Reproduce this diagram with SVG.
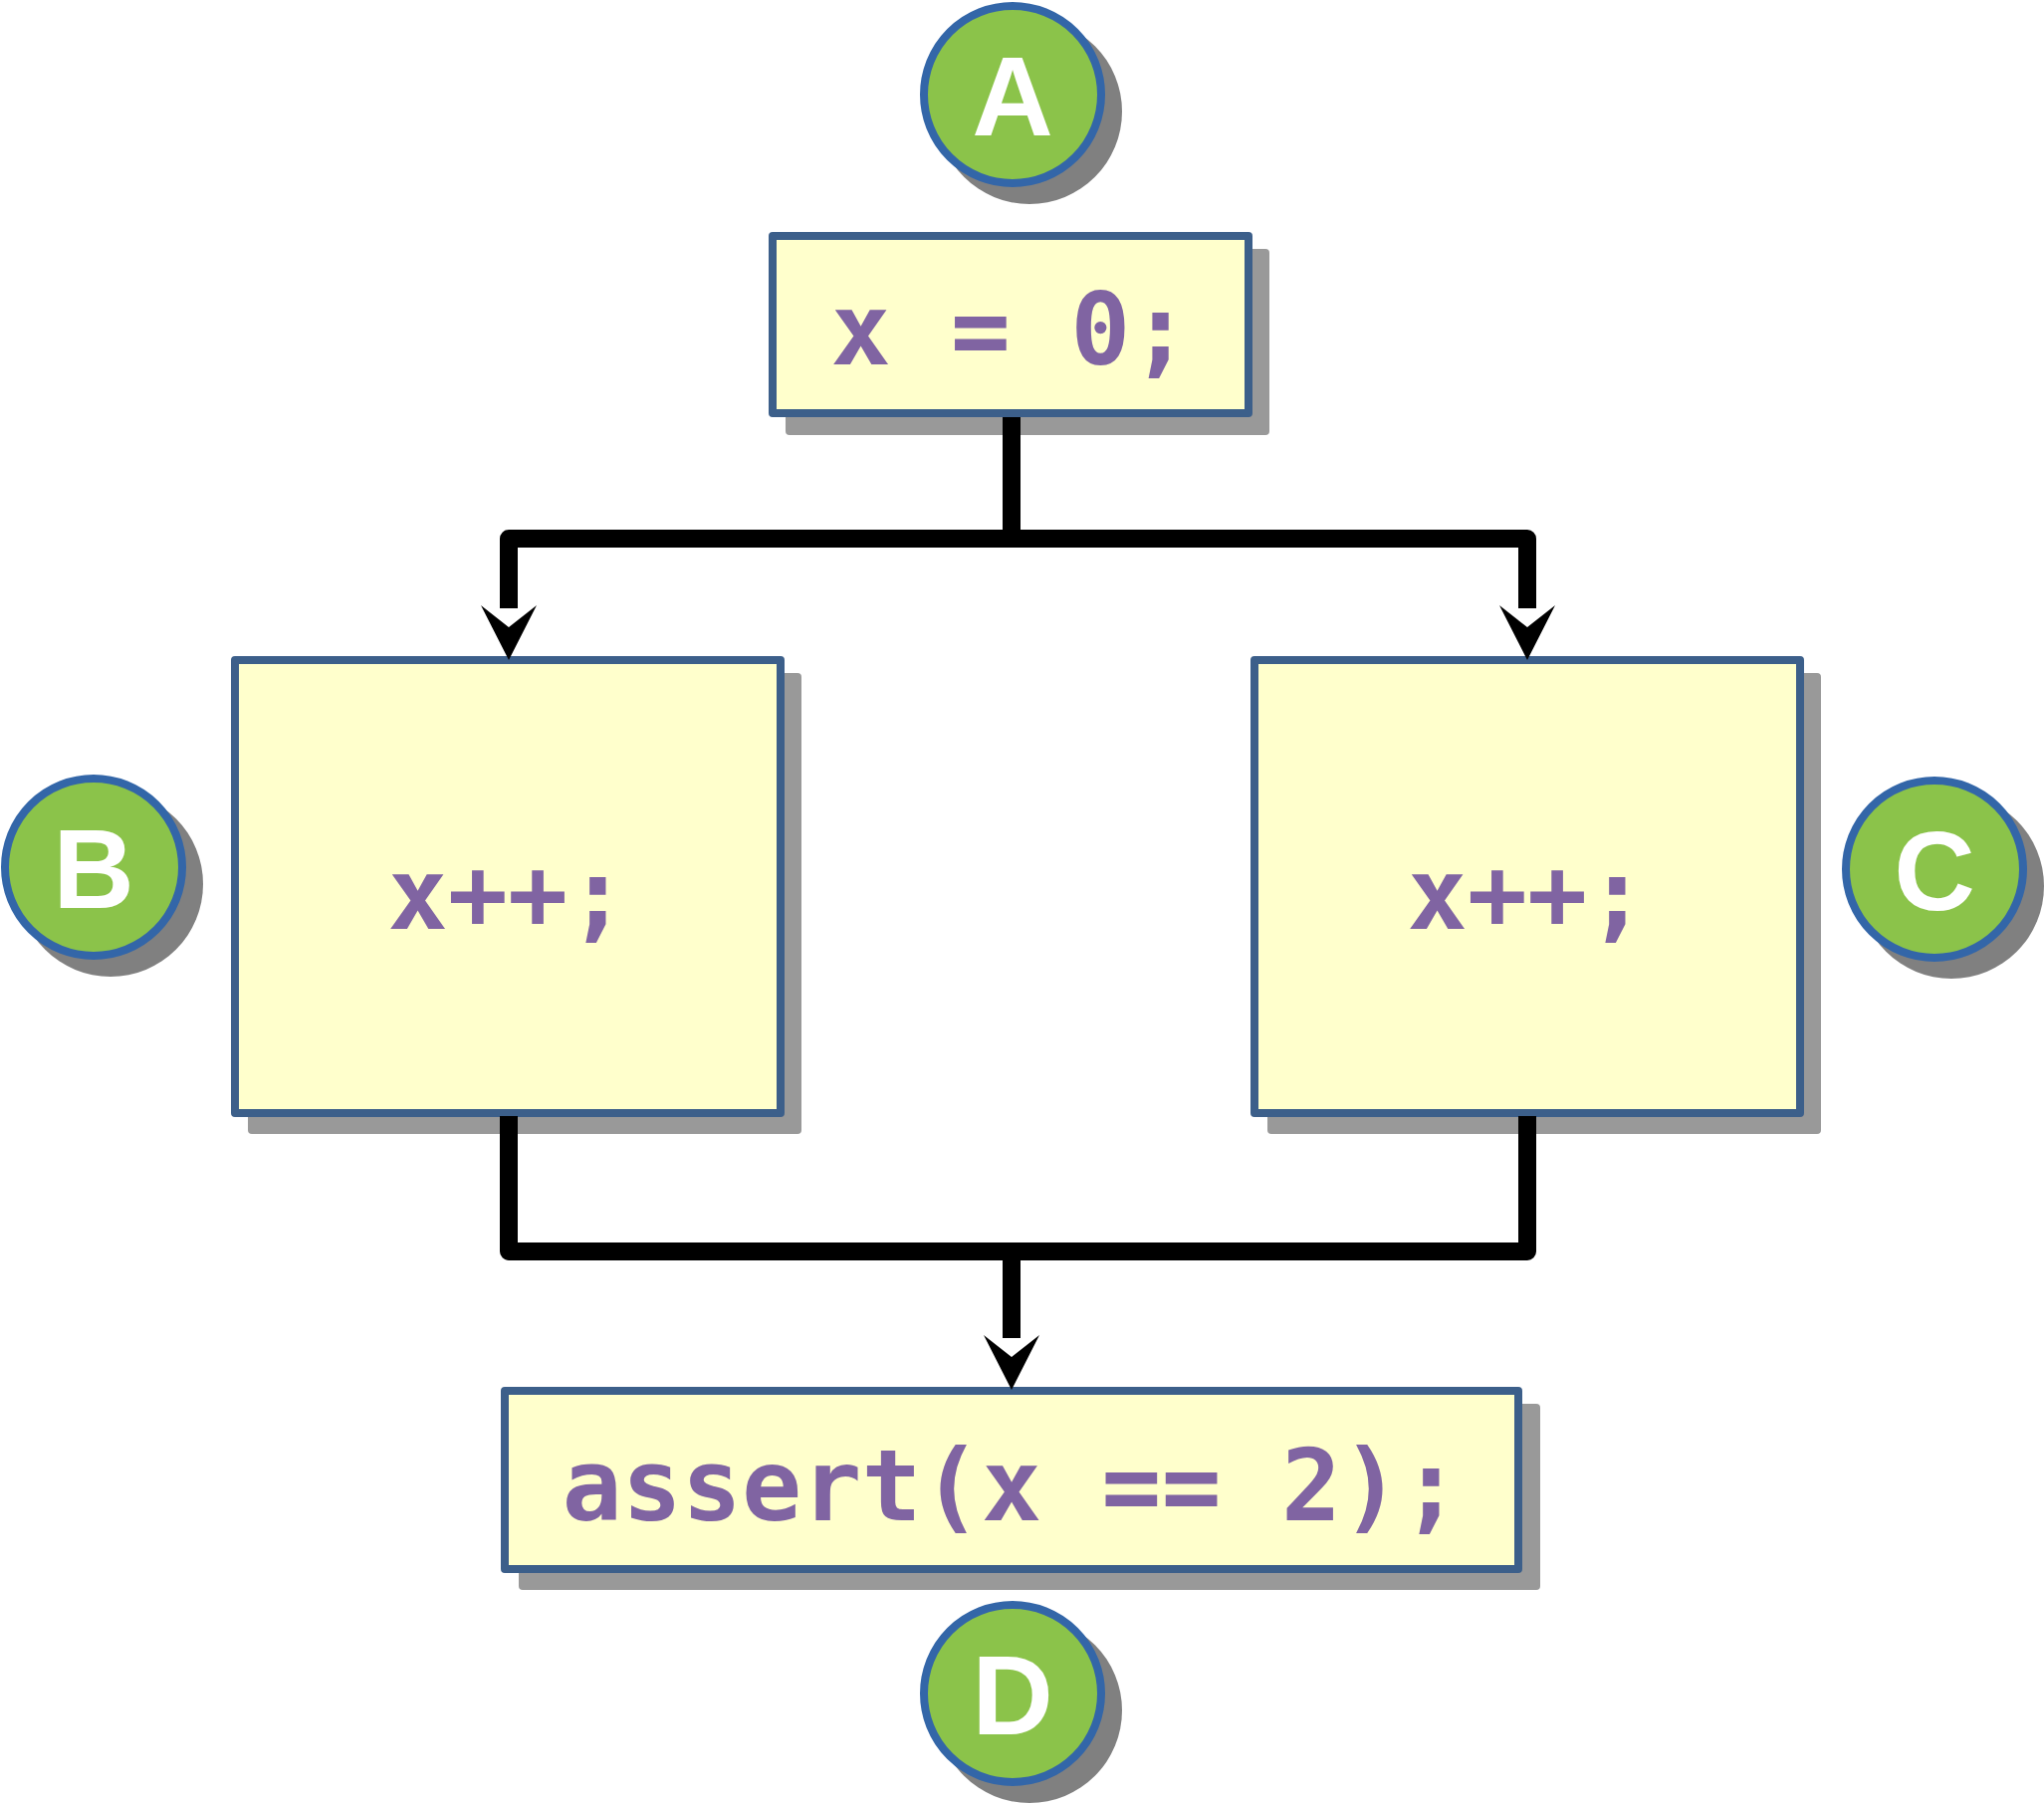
<svg xmlns="http://www.w3.org/2000/svg" xmlns:xlink="http://www.w3.org/1999/xlink" width="2053" height="1813" viewBox="0 0 2053 1813">
<style>
.shadow{fill:#999999}
.box{fill:#FFFFCC;stroke:#3C5F8A;stroke-width:8;stroke-linejoin:round}
.code{font-family:"DejaVu Sans Mono",monospace;font-weight:bold;font-size:100px;fill:#8064A2;text-anchor:middle}
.cshadow{fill:#808080}
.circ{fill:#8BC34A;stroke:#3366A8;stroke-width:8}
.lbl{font-family:"Liberation Sans",Arial,sans-serif;font-weight:bold;font-size:113px;fill:#FFFFFF;text-anchor:middle}
.conn{fill:none;stroke:#000000;stroke-width:18;stroke-linejoin:round;stroke-linecap:butt}
</style>
<defs>
<path id="ah" d="M0,0 L-28,-55 L0,-33 L28,-55 Z" fill="#000000"/>
</defs>
<rect width="2053" height="1813" fill="#FFFFFF"/>
<g id="box-init">
<rect class="shadow" x="789" y="250" width="486" height="187" rx="4"/>
<rect class="box" x="776" y="237" width="478" height="178"/>
<text class="code" x="1015" y="366">x = 0;</text>
</g>
<g id="box-left">
<rect class="shadow" x="249" y="676" width="556" height="463" rx="4"/>
<rect class="box" x="236" y="663" width="548" height="455"/>
<text class="code" x="510" y="933">x++;</text>
</g>
<g id="box-right">
<rect class="shadow" x="1273" y="676" width="556" height="463" rx="4"/>
<rect class="box" x="1260" y="663" width="548" height="455"/>
<text class="code" x="1534" y="933">x++;</text>
</g>
<g id="box-assert">
<rect class="shadow" x="521" y="1410" width="1026" height="187" rx="4"/>
<rect class="box" x="507" y="1397" width="1018" height="179"/>
<text class="code" x="1016" y="1527">assert(x == 2);</text>
</g>
<g id="connectors">
<path class="conn" d="M1016,419 V541"/>
<path class="conn" d="M511,611 V541 H1534 V611"/>
<path class="conn" d="M511,1121 V1257 H1534 V1121"/>
<path class="conn" d="M1016,1257 V1344"/>
<use xlink:href="#ah" href="#ah" x="511" y="663"/>
<use xlink:href="#ah" href="#ah" x="1534" y="663"/>
<use xlink:href="#ah" href="#ah" x="1016" y="1396"/>
</g>
<g id="label-A">
<circle class="cshadow" cx="1034" cy="112" r="93"/>
<circle class="circ" cx="1017" cy="95" r="89"/>
<text class="lbl" x="1017" y="136">A</text>
</g>
<g id="label-B">
<circle class="cshadow" cx="111" cy="888" r="93"/>
<circle class="circ" cx="94" cy="871" r="89"/>
<text class="lbl" x="94" y="912">B</text>
</g>
<g id="label-C">
<circle class="cshadow" cx="1960" cy="890" r="93"/>
<circle class="circ" cx="1943" cy="873" r="89"/>
<text class="lbl" x="1943" y="914">C</text>
</g>
<g id="label-D">
<circle class="cshadow" cx="1034" cy="1718" r="93"/>
<circle class="circ" cx="1017" cy="1701" r="89"/>
<text class="lbl" x="1017" y="1742">D</text>
</g>
</svg>
